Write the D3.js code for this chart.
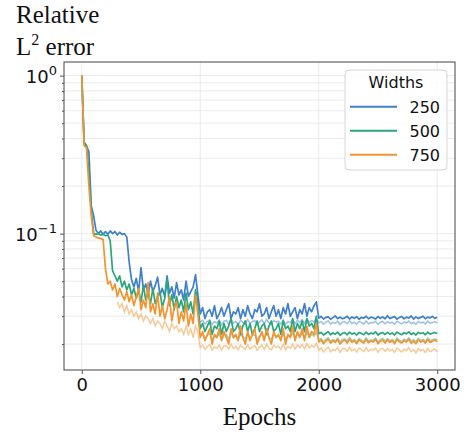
<!DOCTYPE html>
<html>
<head>
<meta charset="utf-8">
<script src="https://cdn.jsdelivr.net/npm/d3@7"></script>
<style>
  body { margin: 0; background: #fff; }
  svg { display: block; }
</style>
</head>
<body>
<div id="chart"></div>
<script>
// Widths shown in the legend
const widths = ["250", "500", "750"];
const colors = ["#3f7fcd", "#2aa77a", "#f39430"];

// Ticks
const xTicks = [0, 1000, 2000, 3000];
const yMajor = [1, 0.1];
const yMajorExp = ["0", "\u22121"];
const yMinor = [0.02, 0.03, 0.04, 0.05, 0.06, 0.07, 0.08, 0.09, 0.2, 0.3, 0.4, 0.5, 0.6, 0.7, 0.8, 0.9];

// Sampled epochs: one value every 20 epochs
const epochs = d3.range(0, 3001, 20);

// Relative L2 error, main runs
const err250 = [
  1.0, 0.38, 0.36, 0.33, 0.15, 0.13, 0.105, 0.1, 0.104, 0.099,
  0.103, 0.099, 0.104, 0.1, 0.103, 0.098, 0.102, 0.099, 0.1, 0.095,
  0.066, 0.051, 0.046, 0.052, 0.043, 0.061, 0.044, 0.048, 0.041, 0.05,
  0.043, 0.047, 0.053, 0.041, 0.045, 0.04, 0.054, 0.042, 0.046, 0.039,
  0.049, 0.041, 0.044, 0.038, 0.05, 0.04, 0.043, 0.046, 0.055, 0.041,
  0.031, 0.034, 0.029, 0.032, 0.033, 0.03, 0.035, 0.029, 0.031, 0.034,
  0.03, 0.033, 0.036, 0.029, 0.032, 0.031, 0.034, 0.029, 0.033, 0.03,
  0.035, 0.031, 0.029, 0.033, 0.032, 0.036, 0.03, 0.031, 0.034, 0.029,
  0.032, 0.035, 0.03, 0.033, 0.029, 0.034, 0.031, 0.036, 0.03, 0.032,
  0.034, 0.029, 0.033, 0.031, 0.036, 0.03, 0.034, 0.032, 0.035, 0.037,
  0.0292, 0.0299, 0.0288, 0.0295, 0.0297, 0.0287, 0.0294, 0.0301, 0.029, 0.0296,
  0.0289, 0.0293, 0.03, 0.0288, 0.0297, 0.0291, 0.0298, 0.0287, 0.0295, 0.0292,
  0.03, 0.0289, 0.0296, 0.0293, 0.0288, 0.0299, 0.0291, 0.0297, 0.0289, 0.0302,
  0.029, 0.0295, 0.0298, 0.0288, 0.0294, 0.0299, 0.0289, 0.0296, 0.0292, 0.0301,
  0.0288, 0.0297, 0.029, 0.0295, 0.03, 0.0289, 0.0296, 0.0293, 0.0299, 0.0291, 0.0295
];
const err500 = [
  1.0, 0.37, 0.355, 0.25, 0.14, 0.1, 0.099, 0.1, 0.098, 0.099,
  0.097, 0.098, 0.09, 0.058, 0.054, 0.05, 0.054, 0.046, 0.05, 0.044,
  0.048, 0.041, 0.045, 0.039, 0.044, 0.037, 0.047, 0.038, 0.042, 0.036,
  0.045, 0.036, 0.04, 0.043, 0.034, 0.039, 0.051, 0.035, 0.041, 0.033,
  0.04, 0.034, 0.038, 0.032, 0.042, 0.033, 0.037, 0.031, 0.044, 0.036,
  0.025, 0.027, 0.024, 0.026, 0.028, 0.023, 0.026, 0.025, 0.028, 0.023,
  0.027, 0.024, 0.026, 0.029, 0.024, 0.025, 0.027, 0.023, 0.026, 0.028,
  0.024, 0.027, 0.023, 0.025, 0.028, 0.024, 0.026, 0.027, 0.023, 0.026,
  0.028, 0.024, 0.025, 0.027, 0.023, 0.028, 0.025, 0.026, 0.024, 0.029,
  0.024, 0.027, 0.025, 0.028, 0.024, 0.029, 0.026, 0.027, 0.025, 0.03,
  0.0232, 0.0237, 0.0228, 0.0234, 0.0239, 0.0229, 0.0235, 0.0231, 0.0238, 0.0227,
  0.0234, 0.0236, 0.0229, 0.0238, 0.0231, 0.0235, 0.0228, 0.0237, 0.0233, 0.0229,
  0.0238, 0.023, 0.0235, 0.0232, 0.0239, 0.0228, 0.0234, 0.0236, 0.023, 0.0237,
  0.0231, 0.0235, 0.0228, 0.0238, 0.0233, 0.0229, 0.0236, 0.0232, 0.0239, 0.023,
  0.0235, 0.0228, 0.0237, 0.0233, 0.0236, 0.0229, 0.0238, 0.0231, 0.0234, 0.0237, 0.0233
];
const err750 = [
  1.0, 0.36, 0.35, 0.2, 0.13, 0.097, 0.095, 0.094, 0.093, 0.092,
  0.06, 0.048, 0.05, 0.044, 0.048, 0.04, 0.045, 0.041, 0.038, 0.043,
  0.037, 0.041, 0.035, 0.04, 0.045, 0.033, 0.038, 0.034, 0.049, 0.032,
  0.036, 0.031, 0.042, 0.03, 0.035, 0.029, 0.033, 0.04, 0.028, 0.034,
  0.037, 0.027, 0.032, 0.028, 0.036, 0.026, 0.031, 0.027, 0.041, 0.031,
  0.022, 0.024, 0.021, 0.023, 0.025, 0.02, 0.023, 0.022, 0.025, 0.021,
  0.024, 0.022, 0.02, 0.025, 0.022, 0.023, 0.021, 0.026, 0.022, 0.02,
  0.024, 0.021, 0.023, 0.025, 0.02, 0.022, 0.024, 0.021, 0.025, 0.022,
  0.02, 0.024, 0.022, 0.023, 0.021, 0.025, 0.02, 0.023, 0.022, 0.026,
  0.021, 0.024, 0.022, 0.025, 0.021, 0.026, 0.022, 0.024, 0.023, 0.027,
  0.0206, 0.0213, 0.0201, 0.0209, 0.0215, 0.0203, 0.021, 0.0205, 0.0214, 0.02,
  0.0208, 0.0212, 0.0203, 0.0215, 0.0205, 0.021, 0.0201, 0.0213, 0.0207, 0.0203,
  0.0214, 0.0204, 0.0209, 0.0206, 0.0215, 0.0201, 0.0208, 0.0212, 0.0203, 0.0213,
  0.0205, 0.021, 0.0201, 0.0214, 0.0207, 0.0203, 0.0211, 0.0206, 0.0215, 0.0202,
  0.0209, 0.0201, 0.0213, 0.0206, 0.021, 0.0203, 0.0214, 0.0205, 0.0208, 0.0212, 0.0207
];

// Second (lighter) curves, only where they show below the main ones
const light250 = [
  null, null, null, null, null, null, null, null, null, null,
  null, null, null, null, null, null, null, null, null, null,
  null, null, null, null, null, null, null, null, null, null,
  null, null, null, null, null, null, null, null, null, null,
  null, null, null, null, null, null, null, null, null, null,
  0.0276, 0.0283, 0.0268, 0.0279, 0.0285, 0.0266, 0.0277, 0.0272, 0.0284, 0.0265,
  0.0279, 0.0282, 0.0268, 0.0286, 0.0271, 0.0278, 0.0266, 0.0283, 0.0274, 0.0268,
  0.0285, 0.027, 0.0278, 0.0281, 0.0265, 0.0276, 0.0284, 0.0269, 0.0286, 0.0272,
  0.0267, 0.0282, 0.0275, 0.0279, 0.0268, 0.0285, 0.0266, 0.0278, 0.0273, 0.0287,
  0.0269, 0.0283, 0.0274, 0.0286, 0.027, 0.0288, 0.0273, 0.0282, 0.0276, 0.0289,
  0.0272, 0.0278, 0.0267, 0.0275, 0.028, 0.0268, 0.0274, 0.0271, 0.0279, 0.0266,
  0.0276, 0.0277, 0.0269, 0.0281, 0.027, 0.0275, 0.0267, 0.0278, 0.0273, 0.0268,
  0.028, 0.0269, 0.0274, 0.0272, 0.0279, 0.0266, 0.0275, 0.0278, 0.0269, 0.0277,
  0.0271, 0.0275, 0.0267, 0.0279, 0.0273, 0.0268, 0.0276, 0.0272, 0.028, 0.0269,
  0.0274, 0.0267, 0.0278, 0.0272, 0.0275, 0.0268, 0.0279, 0.027, 0.0274, 0.0277, 0.0272
];
const light500 = [
  null, null, null, null, null, null, null, null, null, null,
  null, null, null, null, null, null, null, null, null, null,
  null, null, null, null, null, null, null, null, null, null,
  null, null, null, null, null, null, null, null, null, null,
  null, null, null, null, null, null, null, null, null, null,
  0.0223, 0.0231, 0.0215, 0.0227, 0.0233, 0.0214, 0.0225, 0.022, 0.0232, 0.0213,
  0.0227, 0.023, 0.0216, 0.0234, 0.0219, 0.0226, 0.0214, 0.0231, 0.0222, 0.0216,
  0.0233, 0.0218, 0.0226, 0.0229, 0.0213, 0.0224, 0.0232, 0.0217, 0.0234, 0.022,
  0.0215, 0.023, 0.0223, 0.0227, 0.0216, 0.0233, 0.0214, 0.0226, 0.0221, 0.0235,
  0.0217, 0.0231, 0.0222, 0.0234, 0.0218, 0.0236, 0.0221, 0.023, 0.0224, 0.0237,
  0.0212, 0.0217, 0.0207, 0.0214, 0.0219, 0.0208, 0.0213, 0.021, 0.0218, 0.0206,
  0.0215, 0.0216, 0.0209, 0.022, 0.021, 0.0214, 0.0207, 0.0217, 0.0212, 0.0208,
  0.0219, 0.0209, 0.0213, 0.0211, 0.0218, 0.0206, 0.0214, 0.0217, 0.0209, 0.0216,
  0.021, 0.0214, 0.0207, 0.0218, 0.0212, 0.0208, 0.0215, 0.0211, 0.0219, 0.0209,
  0.0213, 0.0207, 0.0217, 0.0211, 0.0214, 0.0208, 0.0218, 0.021, 0.0213, 0.0216, 0.0212
];
const light750 = [
  null, null, null, null, null, null, null, null, null, null,
  null, null, null, null, null, 0.037, 0.034, 0.036, 0.032, 0.035,
  0.031, 0.033, 0.03, 0.032, 0.029, 0.031, 0.028, 0.03, 0.029, 0.027,
  0.029, 0.026, 0.028, 0.027, 0.025, 0.028, 0.026, 0.024, 0.027, 0.025,
  0.026, 0.024, 0.025, 0.023, 0.026, 0.023, 0.025, 0.022, 0.026, 0.024,
  0.019, 0.0196, 0.0185, 0.0193, 0.0198, 0.0183, 0.0192, 0.0188, 0.0197, 0.0184,
  0.0194, 0.0195, 0.0186, 0.0199, 0.0187, 0.0193, 0.0184, 0.0197, 0.019, 0.0185,
  0.0198, 0.0186, 0.0192, 0.0195, 0.0183, 0.019, 0.0197, 0.0185, 0.0199, 0.0188,
  0.0184, 0.0196, 0.019, 0.0194, 0.0185, 0.0199, 0.0184, 0.0193, 0.0189, 0.02,
  0.0186, 0.0197, 0.019, 0.0199, 0.0187, 0.0201, 0.0189, 0.0196, 0.0191, 0.0202,
  0.0183, 0.0189, 0.0178, 0.0186, 0.0191, 0.0179, 0.0185, 0.0182, 0.019, 0.0177,
  0.0187, 0.0188, 0.018, 0.0191, 0.0181, 0.0186, 0.0178, 0.0189, 0.0184, 0.0179,
  0.019, 0.018, 0.0185, 0.0183, 0.0189, 0.0177, 0.0186, 0.0188, 0.018, 0.0187,
  0.0181, 0.0185, 0.0177, 0.0189, 0.0183, 0.0178, 0.0186, 0.0182, 0.019, 0.0179,
  0.0184, 0.0176, 0.0187, 0.0181, 0.0185, 0.0177, 0.0188, 0.0179, 0.0183, 0.0186, 0.0178
];

const mainRuns = [err250, err500, err750];
const lightRuns = [light250, light500, light750];

// Layout
const W = 467, H = 434;
const margin = { top: 62, right: 12, bottom: 64, left: 64 };
const width = W - margin.left - margin.right;
const height = H - margin.top - margin.bottom;

const svg = d3.select("#chart").append("svg")
    .attr("width", W)
    .attr("height", H);

const g = svg.append("g")
    .attr("transform", `translate(${margin.left},${margin.top})`);

// Scales (matplotlib style 5% margins)
const xScale = d3.scaleLinear().domain([-150, 3150]).range([0, width]);
const yScale = d3.scaleLog().domain([0.0137, 1.22]).range([height, 0]);

// Grid
const grid = g.append("g").attr("stroke", "#e6e6e6").attr("stroke-width", 0.8);
grid.selectAll(".gy")
    .data(yMajor.concat(yMinor))
    .enter().append("line")
    .attr("x1", 0).attr("x2", width)
    .attr("y1", d => yScale(d)).attr("y2", d => yScale(d));
grid.selectAll(".gx")
    .data(xTicks)
    .enter().append("line")
    .attr("y1", 0).attr("y2", height)
    .attr("x1", d => xScale(d)).attr("x2", d => xScale(d));

// Curves
const line = d3.line()
    .defined(d => d[1] != null)
    .x(d => xScale(d[0]))
    .y(d => yScale(d[1]));

g.append("clipPath").attr("id", "clip")
    .append("rect").attr("width", width).attr("height", height);
const curves = g.append("g").attr("clip-path", "url(#clip)");

lightRuns.forEach((run, i) => {
    curves.append("path")
        .datum(epochs.map((e, j) => [e, run[j]]))
        .attr("d", line)
        .attr("fill", "none")
        .attr("stroke", colors[i])
        .attr("stroke-opacity", 0.5)
        .attr("stroke-width", 1.5);
});
mainRuns.forEach((run, i) => {
    curves.append("path")
        .datum(epochs.map((e, j) => [e, run[j]]))
        .attr("d", line)
        .attr("fill", "none")
        .attr("stroke", colors[i])
        .attr("stroke-width", 1.7)
        .attr("stroke-linejoin", "round");
});

// Axes
const xAxis = g.append("g")
    .attr("transform", `translate(0,${height})`)
    .call(d3.axisBottom(xScale).tickValues(xTicks).tickSize(4).tickPadding(4).tickFormat(d3.format("d")));
xAxis.select(".domain").remove();
xAxis.selectAll("text")
    .attr("font-family", "DejaVu Sans")
    .attr("font-size", 18)
    .attr("fill", "#111");
xAxis.selectAll("line").attr("stroke", "#555");

const yAxis = g.append("g")
    .call(d3.axisLeft(yScale).tickValues(yMajor).tickSize(4).tickFormat(""));
yAxis.select(".domain").remove();
yAxis.selectAll("line").attr("stroke", "#555");

const yMinorAxis = g.append("g")
    .call(d3.axisLeft(yScale).tickValues(yMinor).tickSize(2).tickFormat(""));
yMinorAxis.select(".domain").remove();
yMinorAxis.selectAll("line").attr("stroke", "#555");

// y tick labels as 10 with superscript exponent
yMajor.forEach((v, i) => {
    const t = g.append("text")
        .attr("x", -7)
        .attr("y", yScale(v) + 7)
        .attr("text-anchor", "end")
        .attr("font-family", "DejaVu Sans")
        .attr("font-size", 18)
        .attr("fill", "#111");
    t.append("tspan").text("10");
    t.append("tspan")
        .attr("dy", -8)
        .attr("font-size", 13)
        .text(yMajorExp[i]);
});

// Frame
g.append("rect")
    .attr("width", width)
    .attr("height", height)
    .attr("fill", "none")
    .attr("stroke", "#555")
    .attr("stroke-width", 1.1);

// Titles
const serif = "Liberation Serif, Times New Roman, serif";
svg.append("text")
    .attr("x", 16).attr("y", 23)
    .attr("font-family", serif).attr("font-size", 25)
    .attr("fill", "#111")
    .text("Relative");
const yl = svg.append("text")
    .attr("x", 16).attr("y", 55)
    .attr("font-family", serif).attr("font-size", 25)
    .attr("fill", "#111");
yl.append("tspan").text("L");
yl.append("tspan").attr("dy", -10).attr("font-size", 16).text("2");
yl.append("tspan").attr("dy", 10).text(" error");

svg.append("text")
    .attr("x", margin.left + width / 2)
    .attr("y", 425)
    .attr("text-anchor", "middle")
    .attr("font-family", serif).attr("font-size", 25)
    .attr("fill", "#111")
    .text("Epochs");

// Legend
const lg = svg.append("g").attr("transform", "translate(345,70)");
lg.append("rect")
    .attr("width", 102).attr("height", 100)
    .attr("rx", 4)
    .attr("fill", "#fff").attr("fill-opacity", 0.85)
    .attr("stroke", "#d6d6d6");
lg.append("text")
    .attr("x", 51).attr("y", 18)
    .attr("text-anchor", "middle")
    .attr("font-family", "DejaVu Sans").attr("font-size", 16)
    .attr("fill", "#111")
    .text("Widths");
const entry = lg.selectAll(".legend")
    .data(widths)
    .enter().append("g")
    .attr("class", "legend")
    .attr("transform", (d, i) => `translate(0, ${36.7 + i * 24})`);
entry.append("line")
    .attr("x1", 5).attr("x2", 52)
    .attr("stroke", (d, i) => colors[i])
    .attr("stroke-width", 2);
entry.append("text")
    .attr("x", 95).attr("y", 6)
    .attr("text-anchor", "end")
    .attr("font-family", "DejaVu Sans").attr("font-size", 16)
    .attr("fill", "#111")
    .text(d => d);
</script>
</body>
</html>
